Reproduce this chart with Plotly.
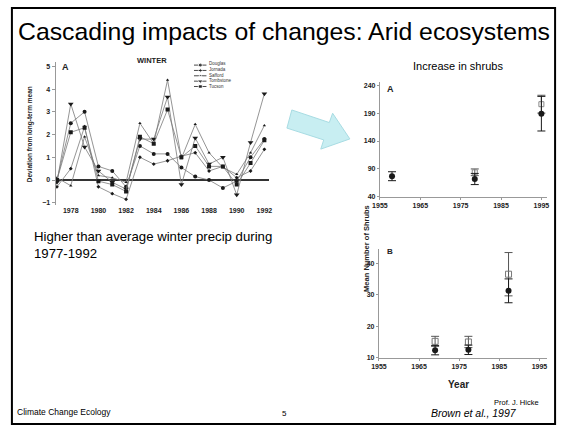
import plotly.graph_objects as go

W, H = 563, 431

# ---- Winter precipitation deviations (left panel) ----
years = list(range(1977, 1993))
douglas = [0.0, 2.5, 3.0, 0.6, 0.4, -0.3, 1.5, 1.15, 1.15, 0.55, 0.15, 0.0, -0.35, -0.05, 1.0, 1.8]
jornada = [-0.3, 0.5, 2.35, -0.3, -0.6, -0.85, 1.0, 0.7, 0.85, 1.05, 1.2, 0.4, 0.6, 0.1, 0.4, 1.35]
safford = [0.1, -0.25, 1.9, 0.2, 0.1, -0.1, 2.5, 1.6, 4.4, 0.95, 2.45, 1.2, 0.55, 0.25, 1.2, 2.4]
tombstone = [-0.1, 3.35, 1.45, 0.4, -0.1, -0.4, 1.8, 1.8, 3.65, -0.2, 1.85, 0.7, 1.0, -0.65, 1.65, 3.8]
tucson = [0.0, 2.1, 2.3, -0.05, -0.2, -0.5, 1.9, 1.6, 3.1, 1.0, 1.5, 0.6, 0.6, -0.2, 0.75, 1.75]
station_names = ["Douglas", "Jornada", "Safford", "Tombstone", "Tucson"]
station_values = [douglas, jornada, safford, tombstone, tucson]
station_symbols = ["circle", "diamond", "triangle-up", "triangle-down", "square"]
station_sizes = [4, 3, 3, 5, 4]
winter_yticks = [-1, 0, 1, 2, 3, 4, 5]
winter_xticks = [1978, 1980, 1982, 1984, 1986, 1988, 1990, 1992]

# ---- Shrub counts, panel A ----
a_years = [1958, 1978.5, 1995]
a_circle = [77, 72, 189]
a_circle_err = [8, 10, 31]
a_square = [None, 84, 206]
a_square_err = [0, 6, 16]
a_yticks = [40, 90, 140, 190, 240]

# ---- Shrub counts, panel B ----
b_years = [1969, 1977.3, 1987.3]
b_circle = [12.4, 12.5, 31.3]
b_circle_err = [1.5, 1.5, 3.8]
b_square = [15.2, 15.0, 36.6]
b_square_err = [1.6, 1.8, 6.9]
b_yticks = [10, 20, 30, 40]
shrub_xticks = [1955, 1965, 1975, 1985, 1995]


def fx(px):
    return px / W


def fy(py):
    return 1 - py / H


fig = go.Figure()

INK = "#1a1a1a"
LINE = "#7a7a7a"

for name, vals, sym, sz in zip(station_names, station_values, station_symbols, station_sizes):
    fig.add_trace(go.Scatter(
        x=years, y=vals, mode="lines+markers", name=name,
        line=dict(color=LINE, width=0.8),
        marker=dict(symbol=sym, size=sz, color=INK),
        xaxis="x", yaxis="y", showlegend=False, hoverinfo="skip"))

# legend samples for the winter panel
for i, (name, sym, sz) in enumerate(zip(station_names, station_symbols, station_sizes)):
    fig.add_trace(go.Scatter(
        x=[0, 0.5, 1], y=[i, i, i], mode="lines+markers",
        line=dict(color=INK, width=0.8),
        marker=dict(symbol=sym, size=[0, sz, 0], color=INK),
        xaxis="x4", yaxis="y4", showlegend=False, hoverinfo="skip"))

bar = lambda arr: dict(type="data", array=arr, visible=True, color=INK, thickness=1, width=4)
bar_sq = lambda arr: dict(type="data", array=arr, visible=True, color="#555555", thickness=1, width=4)

fig.add_trace(go.Scatter(x=a_years, y=a_square, mode="markers",
                         marker=dict(symbol="square-open", size=5, color="#888888"),
                         error_y=bar_sq(a_square_err),
                         xaxis="x2", yaxis="y2", showlegend=False, hoverinfo="skip"))
fig.add_trace(go.Scatter(x=a_years, y=a_circle, mode="markers",
                         marker=dict(symbol="circle", size=6, color=INK),
                         error_y=bar(a_circle_err),
                         xaxis="x2", yaxis="y2", showlegend=False, hoverinfo="skip"))
fig.add_trace(go.Scatter(x=b_years, y=b_square, mode="markers",
                         marker=dict(symbol="square-open", size=6, color="#777777"),
                         error_y=bar_sq(b_square_err),
                         xaxis="x3", yaxis="y3", showlegend=False, hoverinfo="skip"))
fig.add_trace(go.Scatter(x=b_years, y=b_circle, mode="markers",
                         marker=dict(symbol="circle", size=6, color=INK),
                         error_y=bar(b_circle_err),
                         xaxis="x3", yaxis="y3", showlegend=False, hoverinfo="skip"))

tickfont = dict(family="Liberation Sans, Arial", size=7, color="#222", weight="bold")

# winter axes: 1977 at px 50, 14.13 px/yr; 0 at px 180.7, 22.94 px/unit
wx0, wx1 = 1976.9, 1992.3
wy0, wy1 = -1.1, 5.2
fig.update_layout(
    xaxis=dict(domain=[fx(50 + (wx0 - 1977) * 14.13), fx(50 + (wx1 - 1977) * 14.13)],
               range=[wx0, wx1], tickvals=winter_xticks, showline=False, showgrid=False,
               zeroline=False, ticks="", tickfont=tickfont, anchor="y", ticklabelstandoff=0),
    yaxis=dict(domain=[fy(180.7 - wy0 * 22.94), fy(180.7 - wy1 * 22.94)],
               range=[wy0, wy1], tickvals=winter_yticks, showline=True, linecolor="#999",
               linewidth=1, showgrid=False, zeroline=True, zerolinecolor="#333",
               zerolinewidth=2, ticks="outside", ticklen=3, tickcolor="#999",
               tickfont=tickfont, anchor="x"),
    xaxis2=dict(domain=[fx(380), fx(380 + 41.5 * 4.125)], range=[1955, 1996.5],
                tickvals=shrub_xticks, showline=True, linecolor="#999", linewidth=1,
                showgrid=False, zeroline=False, ticks="outside", ticklen=2,
                tickcolor="#999", tickfont=tickfont, anchor="y2"),
    yaxis2=dict(domain=[fy(197.7), fy(197.7 - 205 * 0.5635)], range=[40, 245],
                tickvals=a_yticks, showline=True, linecolor="#999", linewidth=1,
                showgrid=False, zeroline=False, ticks="outside", ticklen=2,
                tickcolor="#999", tickfont=tickfont, anchor="x2"),
    xaxis3=dict(domain=[fx(379), fx(379 + 42 * 4.1)], range=[1955, 1997],
                tickvals=shrub_xticks, showline=True, linecolor="#999", linewidth=1,
                showgrid=False, zeroline=False, ticks="outside", ticklen=2,
                tickcolor="#999", tickfont=tickfont, anchor="y3"),
    yaxis3=dict(domain=[fy(360), fy(360 - 34.5 * 3.167)], range=[10, 44.5],
                tickvals=b_yticks, showline=True, linecolor="#999", linewidth=1,
                showgrid=False, zeroline=False, ticks="outside", ticklen=2,
                tickcolor="#999", tickfont=tickfont, anchor="x3"),
    xaxis4=dict(domain=[fx(190), fx(203)], range=[0, 1], visible=False, anchor="y4"),
    yaxis4=dict(domain=[fy(89), fy(62)], range=[4.5, -0.5], visible=False, anchor="x4"),
)

ann = []


def text(x, y, s, size, xanchor="left", bold=False, italic=False, angle=0, color="#000"):
    font = dict(family="Liberation Sans, Arial", size=size, color=color)
    if bold:
        font["weight"] = "bold"
    if italic:
        font["style"] = "italic"
    ann.append(dict(x=fx(x), y=fy(y), xref="paper", yref="paper", text=s, showarrow=False,
                    xanchor=xanchor, yanchor="middle", font=font, textangle=angle,
                    borderpad=0, borderwidth=0))


text(10, 31, "Cascading impacts of changes: Arid ecosystems", 24.8)
text(147, 60, "WINTER", 7.5, xanchor="center", bold=True, color="#222")
text(55, 67, "A", 9, bold=True, color="#222")
text(22, 135, "Deviation from long-term mean", 6.5, xanchor="center", bold=True, angle=-90, color="#222")
for i, name in enumerate(station_names):
    text(205, 63.5 + i * 5.6, name, 4.5, color="#333")
text(27, 238, "Higher than average winter precip during", 13.2)
text(27, 255, "1977-1992", 13.2)
text(460, 66, "Increase in shrubs", 11, xanchor="center")
text(387, 89, "A", 9, bold=True, color="#222")
text(387, 253, "B", 8, bold=True, color="#222")
text(366, 250, "Mean Number of Shrubs", 7.5, xanchor="center", bold=True, angle=-90, color="#222")
text(460, 387, "Year", 10, xanchor="center", bold=True, color="#222")
text(9, 415, "Climate Change Ecology", 8.5)
text(283, 416, "5", 8, xanchor="center")
text(432, 416, "Brown et al., 1997", 10.5, italic=True)
text(497, 405, "Prof. J. Hicke", 7.5)

# block arrow linking precipitation to shrub response
arrow_pts = [(290, 110), (328.3, 122.7), (331.7, 113.3), (349.3, 139.2),
             (319.6, 149.5), (322.6, 140.2), (285, 128.3)]
path = "M " + " L ".join(f"{fx(x)},{fy(y)}" for x, y in arrow_pts) + " Z"

shapes = [
    dict(type="rect", xref="paper", yref="paper", x0=fx(4), y0=fy(427), x1=fx(559), y1=fy(7),
         line=dict(color="#000", width=2), fillcolor="rgba(0,0,0,0)", layer="above"),
    dict(type="path", xref="paper", yref="paper", path=path,
         fillcolor="#c8eef2", line=dict(color="#a8dce3", width=1)),
]

fig.update_layout(
    width=W, height=H, autosize=False,
    margin=dict(l=0, r=0, t=0, b=0),
    paper_bgcolor="white", plot_bgcolor="white",
    annotations=ann, shapes=shapes, showlegend=False,
)

fig.write_html("out.html", config={"displayModeBar": False})
